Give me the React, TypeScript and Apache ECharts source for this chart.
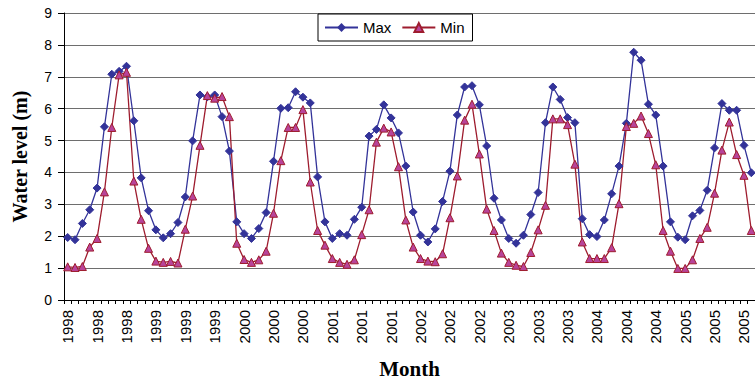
import React, { useEffect, useRef } from "react";
import * as echarts from "echarts";

const years = ["1998", "1999", "2000", "2001", "2002", "2003", "2004", "2005"];
const monthsShown = 94;
const categories: string[] = [];
for (let i = 0; i < monthsShown; i++) categories.push(years[Math.floor(i / 12)]);

const maxLevel = [
  1.96, 1.89, 2.4, 2.83, 3.51, 5.43, 7.08, 7.17, 7.33, 5.62, 3.83, 2.8,
  2.2, 1.95, 2.08, 2.43, 3.23, 4.99, 6.43, 6.37, 6.43, 5.75, 4.67, 2.45,
  2.08, 1.93, 2.24, 2.74, 4.35, 6.01, 6.03, 6.53, 6.36, 6.18, 3.86, 2.45,
  1.93, 2.08, 2.03, 2.53, 2.91, 5.14, 5.35, 6.12, 5.71, 5.24, 4.2, 2.76,
  2.03, 1.82, 2.23, 3.09, 4.04, 5.8, 6.68, 6.72, 6.12, 4.83, 3.19, 2.51,
  1.93, 1.78, 2.03, 2.68, 3.37, 5.56, 6.68, 6.29, 5.72, 5.56, 2.55, 2.05,
  1.99, 2.51, 3.33, 4.2, 5.54, 7.77, 7.52, 6.14, 5.8, 4.2, 2.45, 1.97,
  1.89, 2.64, 2.81, 3.44, 4.77, 6.16, 5.95, 5.95, 4.85, 3.99,
];

const minLevel = [
  1.04, 1.02, 1.05, 1.66, 1.93, 3.39, 5.41, 7.06, 7.14, 3.73, 2.53, 1.62,
  1.22, 1.18, 1.21, 1.16, 2.22, 3.26, 4.85, 6.41, 6.33, 6.38, 5.75, 1.78,
  1.27, 1.18, 1.26, 1.53, 2.72, 4.37, 5.41, 5.41, 5.97, 3.7, 2.18, 1.72,
  1.3, 1.18, 1.12, 1.26, 2.05, 2.83, 4.95, 5.39, 5.27, 4.18, 2.51, 1.66,
  1.3, 1.22, 1.2, 1.45, 2.58, 3.89, 5.64, 6.14, 4.58, 2.85, 2.18, 1.47,
  1.18, 1.09, 1.05, 1.49, 2.2, 2.97, 5.68, 5.68, 5.5, 4.26, 1.82, 1.3,
  1.3, 1.3, 1.64, 3.02, 5.44, 5.54, 5.77, 5.22, 4.24, 2.18, 1.53, 0.99,
  0.99, 1.26, 1.93, 2.28, 3.35, 4.7, 5.58, 4.56, 3.91, 2.18,
];

const yTicks = { min: 0, max: 9, interval: 1 };

export default function App() {
  const ref = useRef<HTMLDivElement>(null);
  useEffect(() => {
    if (!ref.current) return;
    const chart = echarts.init(ref.current, null, { renderer: "svg" });
    const sans = "'Liberation Sans', Arial, sans-serif";
    const serif = "'Liberation Serif', 'Times New Roman', serif";
    chart.setOption({
      animation: false,
      backgroundColor: "#ffffff",
      grid: { left: 64, right: 0, top: 13, bottom: 83, containLabel: false },
      legend: {
        left: 318,
        top: 14,
        orient: "horizontal",
        backgroundColor: "#ffffff",
        borderColor: "#000000",
        borderWidth: 1,
        borderRadius: 0,
        padding: [6, 8, 6, 6],
        itemWidth: 33,
        itemHeight: 11,
        itemGap: 10,
        textStyle: { fontFamily: sans, fontSize: 15, color: "#000" },
        data: ["Max", "Min"],
      },
      xAxis: {
        type: "category",
        data: categories,
        boundaryGap: true,
        name: "Month",
        nameLocation: "middle",
        nameGap: 58,
        nameTextStyle: { fontFamily: serif, fontWeight: "bold", fontSize: 21, color: "#000" },
        axisLine: { show: true, lineStyle: { color: "#000", width: 1 } },
        axisTick: { show: true, interval: 0, length: 4, lineStyle: { color: "#000" } },
        axisLabel: {
          interval: 3,
          rotate: 90,
          margin: 10,
          fontFamily: sans,
          fontSize: 15,
          color: "#000",
        },
        splitLine: { show: false },
      },
      yAxis: {
        type: "value",
        min: yTicks.min,
        max: yTicks.max,
        interval: yTicks.interval,
        name: "Water level (m)",
        nameLocation: "middle",
        nameRotate: 90,
        nameGap: 34,
        nameTextStyle: { fontFamily: serif, fontWeight: "bold", fontSize: 20, color: "#000" },
        axisLine: { show: true, lineStyle: { color: "#000", width: 1 } },
        axisTick: { show: true, inside: false, length: 6, lineStyle: { color: "#000" } },
        axisLabel: { margin: 12, fontFamily: sans, fontSize: 14, color: "#000" },
        splitLine: { show: true, lineStyle: { color: "#6e6e6e", width: 1 } },
      },
      series: [
        {
          name: "Max",
          type: "line",
          data: maxLevel,
          symbol: "diamond",
          symbolSize: 8,
          showAllSymbol: true,
          lineStyle: { color: "#333399", width: 1.3 },
          itemStyle: { color: "#333399", borderColor: "#333399" },
        },
        {
          name: "Min",
          type: "line",
          data: minLevel,
          symbol: "triangle",
          symbolSize: 8,
          showAllSymbol: true,
          lineStyle: { color: "#9e1c2e", width: 1.3 },
          itemStyle: { color: "#b8449a", borderColor: "#9e1c2e", borderWidth: 1 },
        },
      ],
    });
    return () => chart.dispose();
  }, []);
  return (
    <div
      ref={ref}
      style={{ position: "fixed", left: 0, top: 0, width: 755, height: 384 }}
    />
  );
}
